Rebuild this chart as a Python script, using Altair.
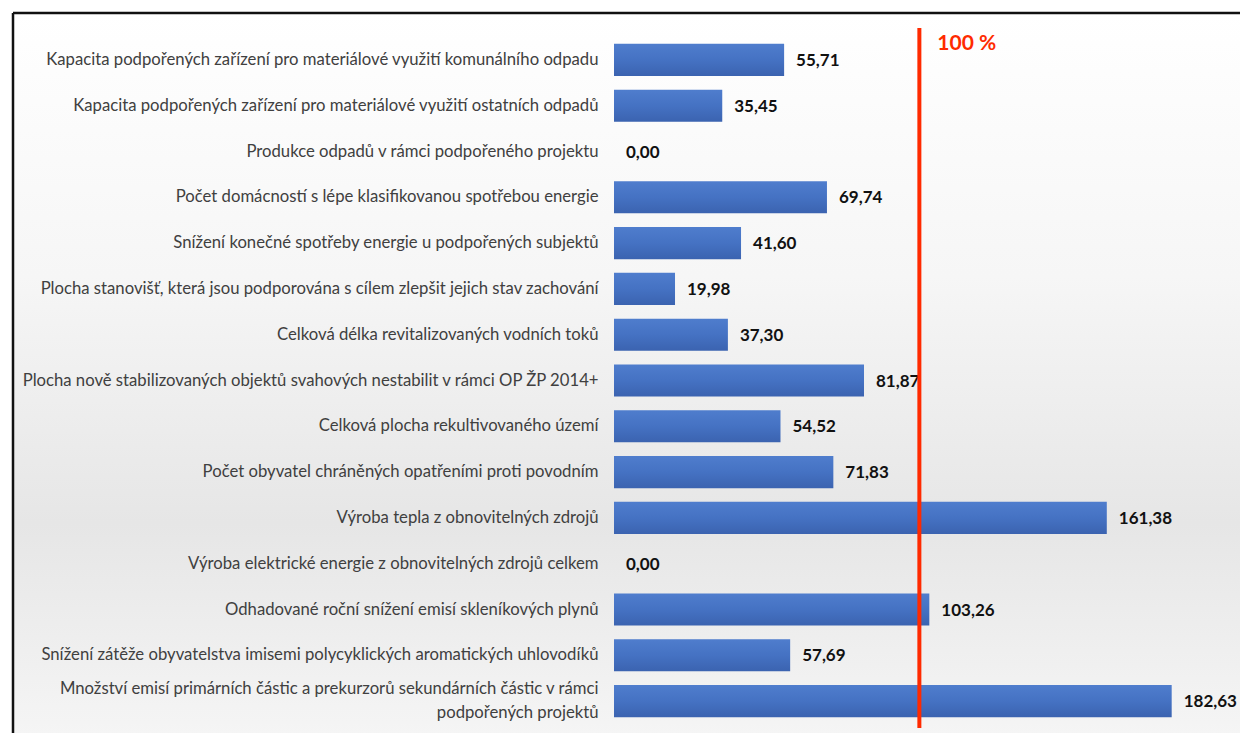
import altair as alt
import pandas as pd

categories = [
    "Kapacita podpořených zařízení pro materiálové využití komunálního odpadu",
    "Kapacita podpořených zařízení pro materiálové využití ostatních odpadů",
    "Produkce odpadů v rámci podpořeného projektu",
    "Počet domácností s lépe klasifikovanou spotřebou energie",
    "Snížení konečné spotřeby energie u podpořených subjektů",
    "Plocha stanovišť, která jsou podporována s cílem zlepšit jejich stav zachování",
    "Celková délka revitalizovaných vodních toků",
    "Plocha nově stabilizovaných objektů svahových nestabilit v rámci OP ŽP 2014+",
    "Celková plocha rekultivovaného území",
    "Počet obyvatel chráněných opatřeními proti povodním",
    "Výroba tepla z obnovitelných zdrojů",
    "Výroba elektrické energie z obnovitelných zdrojů celkem",
    "Odhadované roční snížení emisí skleníkových plynů",
    "Snížení zátěže obyvatelstva imisemi polycyklických aromatických uhlovodíků",
    "Množství emisí primárních částic a prekurzorů sekundárních částic v rámci|podpořených projektů",
]
values = [55.71, 35.45, 0.00, 69.74, 41.60, 19.98, 37.30, 81.87, 54.52, 71.83,
          161.38, 0.00, 103.26, 57.69, 182.63]
target = [100]
target_label = ["100 %"]

df = pd.DataFrame({
    "cat": categories,
    "val": values,
    "lab": [f"{v:.2f}".replace(".", ",") for v in values],
})
tdf = pd.DataFrame({"t": target, "lab": target_label})

W, H = 626, 687
FONT = "Lato"
XDOM = [0, 205]

bar_grad = alt.LinearGradient(
    gradient="linear", x1=0, y1=0, x2=0, y2=1,
    stops=[alt.GradientStop(offset=0, color="#4f7dcd"),
           alt.GradientStop(offset=0.5, color="#4572c3"),
           alt.GradientStop(offset=1, color="#3b63b0")],
)
bg_grad = alt.LinearGradient(
    gradient="linear", x1=0, y1=0, x2=0, y2=1,
    stops=[alt.GradientStop(offset=0, color="#ffffff"),
           alt.GradientStop(offset=0.35, color="#f6f6f6"),
           alt.GradientStop(offset=0.68, color="#e6e6e6"),
           alt.GradientStop(offset=1, color="#f7f7f7")],
)

y_enc = alt.Y("cat:N", sort=None,
              scale=alt.Scale(paddingInner=0.3, paddingOuter=0.15),
              axis=alt.Axis(title=None, ticks=False, domain=False, zindex=2,
                            labelFont=FONT, labelFontSize=16.7, labelColor="#404040",
                            labelPadding=16, labelLimit=620, labelLineHeight=24,
                            labelOffset={"condition": {"test": "indexof(datum.value, '|') >= 0",
                                                       "value": -12},
                                         "value": 0},
                            labelExpr="split(datum.label, '|')"))
x_enc = alt.X("val:Q", scale=alt.Scale(domain=XDOM, nice=False), axis=None)

base = alt.Chart(df)

bg = alt.Chart(pd.DataFrame({"a": [0]})).mark_rect(color=bg_grad).encode(
    x=alt.value(-601), x2=alt.value(W + 20),
    y=alt.value(-24), y2=alt.value(H + 40),
)
frame_top = alt.Chart(pd.DataFrame({"a": [0]})).mark_rule(color="#111111", strokeWidth=2.5).encode(
    x=alt.value(-601), x2=alt.value(W + 20), y=alt.value(-24))
frame_left = alt.Chart(pd.DataFrame({"a": [0]})).mark_rule(color="#111111", strokeWidth=2.5).encode(
    x=alt.value(-601), y=alt.value(-24), y2=alt.value(H + 40))

bars = base.mark_bar(color=bar_grad).encode(y=y_enc, x=x_enc)
labels = base.mark_text(align="left", baseline="middle", dx=12, dy=1,
                        font=FONT, fontSize=17, fontWeight="bold",
                        color="#111111").encode(y=y_enc, x=x_enc, text="lab:N")

rule = alt.Chart(tdf).mark_rule(color="#ff2a00", strokeWidth=4).encode(
    x=alt.X("t:Q", scale=alt.Scale(domain=XDOM, nice=False), axis=None),
    y=alt.value(-9), y2=alt.value(H + 4))
rule_text = alt.Chart(tdf).mark_text(align="left", baseline="middle", dx=18,
                                     font=FONT, fontSize=21, fontWeight="bold",
                                     color="#ff2a00").encode(
    x=alt.X("t:Q", scale=alt.Scale(domain=XDOM, nice=False), axis=None),
    y=alt.value(7), text="lab:N")

chart = alt.layer(bg, frame_top, frame_left, bars, labels, rule, rule_text).properties(
    width=W, height=H,
    autosize=alt.AutoSizeParams(type="none"),
    padding={"left": 606, "top": 29, "right": 0, "bottom": 9},
).configure_view(stroke=None).configure(background="#ffffff")

chart.save("out.html", embed_options={"renderer": "svg", "actions": False})
